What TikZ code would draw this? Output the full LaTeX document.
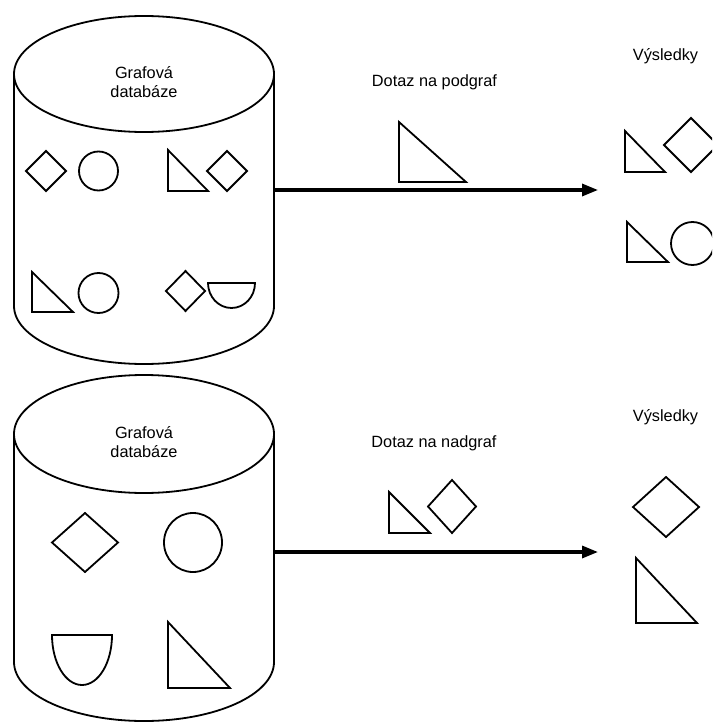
\documentclass[tikz,border=0pt]{standalone}
\usepackage{fontspec}
\setmainfont{Liberation Sans}
\usetikzlibrary{arrows.meta}
\begin{document}
\begin{tikzpicture}[x=1pt,y=-1pt,
  shp/.style={draw=black,line width=1.8pt,line join=miter},
  cyl/.style={draw=black,line width=1.8pt},
  conn/.style={draw=black,line width=3.2pt,-{Triangle[length=16pt,width=12pt]}},
  lbl/.style={font=\fontsize{16.3}{19.5}\selectfont,text=black,inner sep=0pt},
  dblbl/.style={lbl,align=center}]
\fill[white] (0,0) rectangle (712,722);
\useasboundingbox (0,0) rectangle (712,722);
\clip (0,0) rectangle (712,722);

% ---------- top cylinder ----------
\draw[cyl] (144,74) ellipse[x radius=130,y radius=58];
\draw[cyl] (14,74) -- (14,306) arc[start angle=180,end angle=0,x radius=130,y radius=58] -- (274,74);
\node[dblbl] (db1) at (144,82) {Grafová\\databáze};
\coordinate (db1e) at (274,190);

% shapes in top cylinder
\draw[shp] (26,171) -- (46,151) -- (66,171) -- (46,191) -- cycle;
\draw[shp] (98.5,171) circle[radius=19.5];
\draw[shp] (168,150) -- (168,191) -- (208,191) -- cycle;
\draw[shp] (207,171) -- (227,151) -- (247,171) -- (227,191) -- cycle;
\draw[shp] (32,272) -- (32,312) -- (73,312) -- cycle;
\draw[shp] (98.5,293) circle[radius=20];
\draw[shp] (166,291) -- (185.5,271) -- (205,291) -- (185.5,311) -- cycle;
\draw[shp] (208,283) -- (255,283) arc[start angle=0,end angle=180,x radius=23.5,y radius=25] -- cycle;

% query / result top
\node[lbl,anchor=base] (q1) at (434.5,86.5) {Dotaz na podgraf};
\draw[shp] (399,122) -- (399,182) -- (466,182) -- cycle;
\node[lbl,anchor=base] (r1) at (665.5,60.5) {Výsledky};
\coordinate (res1) at (598,190);
\draw[conn] (db1e) -- (res1);
\draw[shp] (625,131) -- (625,172) -- (665,172) -- cycle;
\draw[shp] (664,145) -- (691,118) -- (718,145) -- (691,172) -- cycle;
\draw[shp] (627,222) -- (627,262) -- (668,262) -- cycle;
\draw[shp] (692.5,243.5) circle[radius=21.5];

% ---------- bottom cylinder ----------
\draw[cyl] (144,434) ellipse[x radius=130,y radius=59];
\draw[cyl] (14,434) -- (14,662) arc[start angle=180,end angle=0,x radius=130,y radius=59] -- (274,434);
\node[dblbl] (db2) at (144,442) {Grafová\\databáze};
\coordinate (db2e) at (274,552);

\draw[shp] (52,542.5) -- (85,513) -- (118,542.5) -- (85,572) -- cycle;
\draw[shp] (193,542.5) ellipse[x radius=29,y radius=29.5];
\draw[shp] (52,635) -- (112,635) arc[start angle=0,end angle=180,x radius=30,y radius=50] -- cycle;
\draw[shp] (168,622) -- (168,688) -- (230,688) -- cycle;

% query / result bottom
\node[lbl,anchor=base] (q2) at (434,447.5) {Dotaz na nadgraf};
\draw[shp] (389,492) -- (389,533) -- (430,533) -- cycle;
\draw[shp] (428,506.5) -- (452,480) -- (476,506.5) -- (452,533) -- cycle;
\node[lbl,anchor=base] (r2) at (665.5,421) {Výsledky};
\coordinate (res2) at (598,552);
\draw[conn] (db2e) -- (res2);
\draw[shp] (633,507) -- (666,477) -- (699,507) -- (666,537) -- cycle;
\draw[shp] (636,558) -- (636,623) -- (697,623) -- cycle;
\end{tikzpicture}
\end{document}
